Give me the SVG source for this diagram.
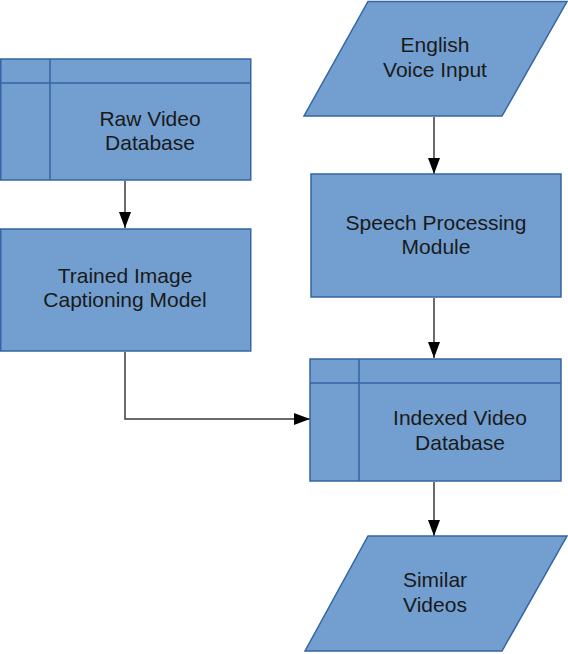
<svg xmlns="http://www.w3.org/2000/svg" width="568" height="654" viewBox="0 0 568 654">
<defs>
<style>
.box{fill:#729fcf;stroke:#3465a4;stroke-width:1.5}
.inner{fill:none;stroke:#3465a4;stroke-width:1.5}
.lbl{font-family:"Liberation Sans",Arial,sans-serif;font-size:21px;fill:#1a1a1a;text-anchor:middle}
.conn{fill:none;stroke:#3a3a3a;stroke-width:1.5}
</style>
<marker id="ah" viewBox="0 0 16 12" refX="16" refY="6" markerWidth="16" markerHeight="12" markerUnits="userSpaceOnUse" orient="auto">
<path d="M0,0 L16,6 L0,12 Z" fill="#000"/>
</marker>
</defs>
<rect width="568" height="654" fill="#fff"/>
<g id="connectors">
<path class="conn" d="M125,181 L125,228" marker-end="url(#ah)"/>
<path class="conn" d="M434,117 L434,174" marker-end="url(#ah)"/>
<path class="conn" d="M434,298 L434,358" marker-end="url(#ah)"/>
<path class="conn" d="M125,352 L125,419 L310,419" marker-end="url(#ah)"/>
<path class="conn" d="M434,482 L434,536" marker-end="url(#ah)"/>
</g>
<g id="raw-video-db">
<rect class="box" x="0.75" y="59" width="250" height="121"/>
<path class="inner" d="M0.75,83 H250.75 M50,59 V180"/>
<text class="lbl" x="150" y="126">Raw Video</text>
<text class="lbl" x="150" y="150">Database</text>
</g>
<g id="trained-model">
<rect class="box" x="0.75" y="229" width="250" height="122"/>
<text class="lbl" x="125" y="283">Trained Image</text>
<text class="lbl" x="125" y="307">Captioning Model</text>
</g>
<g id="english-voice">
<polygon class="box" points="368,1.5 567,1.5 502,116 304,116"/>
<text class="lbl" x="435" y="52">English</text>
<text class="lbl" x="435" y="77">Voice Input</text>
</g>
<g id="speech-module">
<rect class="box" x="311" y="174" width="250" height="123"/>
<text class="lbl" x="436" y="230">Speech Processing</text>
<text class="lbl" x="436" y="254">Module</text>
</g>
<g id="indexed-db">
<rect class="box" x="310" y="359" width="251" height="122"/>
<path class="inner" d="M310,383 H561 M359,359 V481"/>
<text class="lbl" x="460" y="425">Indexed Video</text>
<text class="lbl" x="460" y="450">Database</text>
</g>
<g id="similar-videos">
<polygon class="box" points="368,536 567,536 502,651 305,651"/>
<text class="lbl" x="435" y="587">Similar</text>
<text class="lbl" x="435" y="612">Videos</text>
</g>
</svg>
